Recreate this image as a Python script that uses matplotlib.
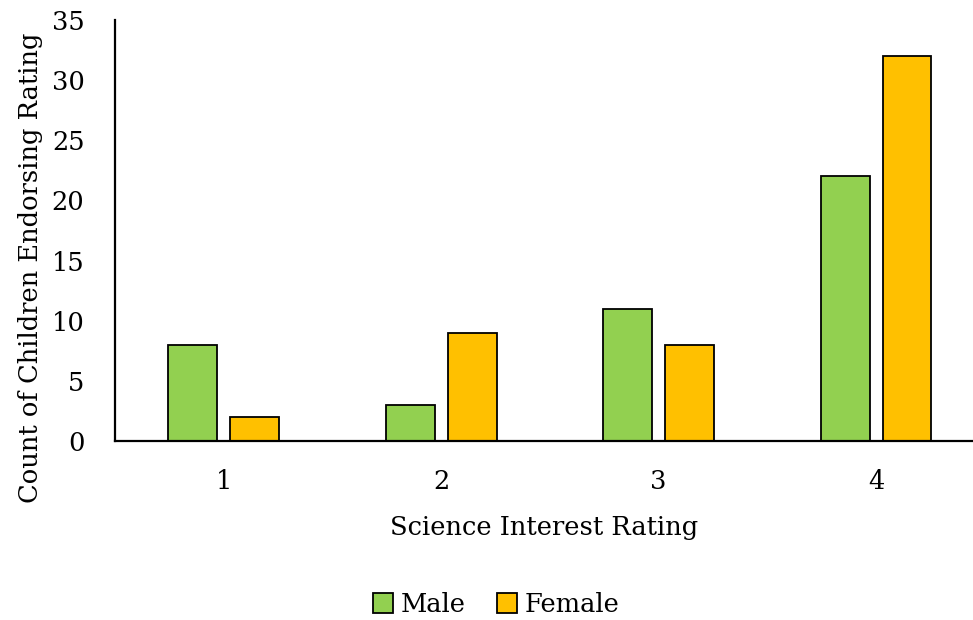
import matplotlib.pyplot as plt
import numpy as np

ratings = ['1', '2', '3', '4']
male = [8, 3, 11, 22]
female = [2, 9, 8, 32]

plt.rcParams['font.family'] = ['DejaVu Serif']

fig = plt.figure(figsize=(9.73, 6.2), dpi=100)
ax = fig.add_axes([0.1182, 0.2887, 0.8818, 0.679])

x = np.arange(1, len(ratings) + 1)
w = 0.225
off = 0.1425
ax.bar(x - off, male, w, color='#92D050', edgecolor='black', linewidth=1.3, label='Male')
ax.bar(x + off, female, w, color='#FFC000', edgecolor='black', linewidth=1.3, label='Female')

ax.set_xlim(0.5, 4.446)
ax.set_ylim(0, 35)
ax.set_yticks(range(0, 36, 5))
ax.set_xticks(x)
ax.set_xticklabels(ratings)
ax.tick_params(length=0, labelsize=18.5)
ax.tick_params(axis='x', pad=20)
ax.tick_params(axis='y', pad=22)
for s in ['top', 'right']:
    ax.spines[s].set_visible(False)
for s in ['left', 'bottom']:
    ax.spines[s].set_linewidth(1.6)

ax.set_xlabel('Science Interest Rating', fontsize=18.5, labelpad=15)
ax.set_ylabel('Count of Children Endorsing Rating', fontsize=18.5, va='center')
ax.yaxis.set_label_coords(-0.099, 0.411)

fig.legend(loc='center', bbox_to_anchor=(0.51, 0.025), ncol=2, frameon=False,
           fontsize=18.5, handlelength=0.8, handleheight=0.8, handletextpad=0.3,
           columnspacing=1.2)

fig.savefig('out.png', dpi=100)
